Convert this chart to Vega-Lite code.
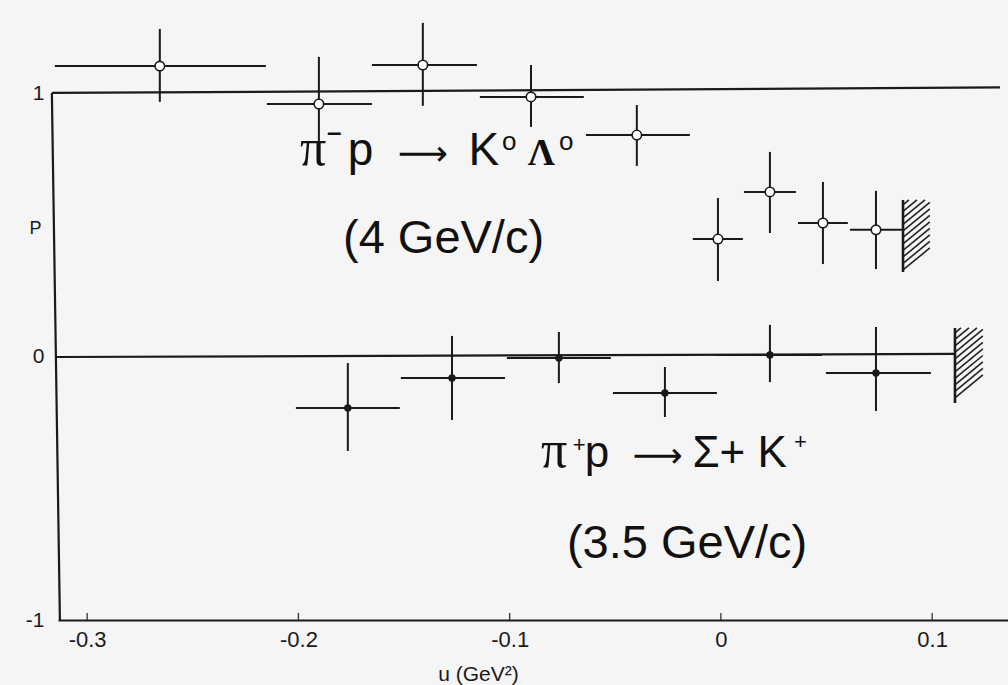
{
  "$schema": "https://vega.github.io/schema/vega-lite/v6.json",
  "width": 950,
  "height": 620,
  "autosize": {"type": "none"},
  "padding": {"left": 58, "top": 0, "right": 0, "bottom": 65},
  "background": "#f5f5f6",
  "config": {"view": {"stroke": null}, "font": "Liberation Sans"},
  "datasets": {
    "points": [
      {"reaction": "K0L0", "u": -0.2656, "ulo": -0.3153, "uhi": -0.2154, "P": 1.104, "Plo": 0.968, "Phi": 1.245},
      {"reaction": "K0L0", "u": -0.1903, "ulo": -0.2149, "uhi": -0.1652, "P": 0.960, "Plo": 0.800, "Phi": 1.139},
      {"reaction": "K0L0", "u": -0.1411, "ulo": -0.1652, "uhi": -0.1155, "P": 1.108, "Plo": 0.953, "Phi": 1.268},
      {"reaction": "K0L0", "u": -0.0899, "ulo": -0.1141, "uhi": -0.0649, "P": 0.987, "Plo": 0.873, "Phi": 1.108},
      {"reaction": "K0L0", "u": -0.0398, "ulo": -0.0639, "uhi": -0.0147, "P": 0.842, "Plo": 0.725, "Phi": 0.956},
      {"reaction": "K0L0", "u": -0.0014, "ulo": -0.0133, "uhi": 0.0104, "P": 0.447, "Plo": 0.288, "Phi": 0.603},
      {"reaction": "K0L0", "u": 0.0232, "ulo": 0.0109, "uhi": 0.0355, "P": 0.626, "Plo": 0.470, "Phi": 0.778},
      {"reaction": "K0L0", "u": 0.0483, "ulo": 0.0365, "uhi": 0.0601, "P": 0.508, "Plo": 0.352, "Phi": 0.664},
      {"reaction": "K0L0", "u": 0.0734, "ulo": 0.0611, "uhi": 0.0857, "P": 0.482, "Plo": 0.333, "Phi": 0.630},
      {"reaction": "SK", "u": -0.1766, "ulo": -0.2012, "uhi": -0.1520, "P": -0.195, "Plo": -0.358, "Phi": -0.024},
      {"reaction": "SK", "u": -0.1273, "ulo": -0.1515, "uhi": -0.1022, "P": -0.081, "Plo": -0.240, "Phi": 0.079},
      {"reaction": "SK", "u": -0.0767, "ulo": -0.1013, "uhi": -0.0521, "P": -0.005, "Plo": -0.100, "Phi": 0.094},
      {"reaction": "SK", "u": -0.0265, "ulo": -0.0511, "uhi": -0.0019, "P": -0.138, "Plo": -0.229, "Phi": -0.039},
      {"reaction": "SK", "u": 0.0232, "ulo": -0.0024, "uhi": 0.0478, "P": 0.007, "Plo": -0.096, "Phi": 0.121},
      {"reaction": "SK", "u": 0.0734, "ulo": 0.0497, "uhi": 0.0994, "P": -0.062, "Plo": -0.206, "Phi": 0.113}
    ],
    "segments": [
      {"kind": "frame", "u1": -0.3167, "P1": 1.0019, "u2": 0.1321, "P2": 1.0228},
      {"kind": "frame", "u1": -0.3143, "P1": -0.001, "u2": 0.1108, "P2": 0.0105},
      {"kind": "frame", "u1": -0.3167, "P1": 1.0019, "u2": -0.3129, "P2": -1.0},
      {"kind": "tick", "u1": -0.3, "P1": -1.0, "u2": -0.3, "P2": -0.973},
      {"kind": "tick", "u1": -0.2, "P1": -1.0, "u2": -0.2, "P2": -0.973},
      {"kind": "tick", "u1": -0.1, "P1": -1.0, "u2": -0.1, "P2": -0.973},
      {"kind": "tick", "u1": 0.0, "P1": -1.0, "u2": 0.0, "P2": -0.973},
      {"kind": "tick", "u1": 0.1, "P1": -1.0, "u2": 0.1, "P2": -0.973},
      {"kind": "edge", "u1": 0.0862, "P1": 0.5955, "u2": 0.0862, "P2": 0.3219},
      {"kind": "edge", "u1": 0.1108, "P1": 0.1092, "u2": 0.1108, "P2": -0.1757},
      {"kind": "hatch", "u1": 0.0862, "P1": 0.5765, "u2": 0.0890, "P2": 0.5955},
      {"kind": "hatch", "u1": 0.0862, "P1": 0.5518, "u2": 0.0928, "P2": 0.5955},
      {"kind": "hatch", "u1": 0.0862, "P1": 0.5271, "u2": 0.0966, "P2": 0.5955},
      {"kind": "hatch", "u1": 0.0862, "P1": 0.5024, "u2": 0.0989, "P2": 0.5860},
      {"kind": "hatch", "u1": 0.0862, "P1": 0.4777, "u2": 0.0989, "P2": 0.5613},
      {"kind": "hatch", "u1": 0.0862, "P1": 0.4530, "u2": 0.0989, "P2": 0.5366},
      {"kind": "hatch", "u1": 0.0862, "P1": 0.4283, "u2": 0.0989, "P2": 0.5119},
      {"kind": "hatch", "u1": 0.0862, "P1": 0.4036, "u2": 0.0989, "P2": 0.4872},
      {"kind": "hatch", "u1": 0.0862, "P1": 0.3789, "u2": 0.0989, "P2": 0.4625},
      {"kind": "hatch", "u1": 0.0862, "P1": 0.3542, "u2": 0.0989, "P2": 0.4378},
      {"kind": "hatch", "u1": 0.0862, "P1": 0.3295, "u2": 0.0989, "P2": 0.4131},
      {"kind": "hatch", "u1": 0.1108, "P1": 0.0902, "u2": 0.1136, "P2": 0.1092},
      {"kind": "hatch", "u1": 0.1108, "P1": 0.0655, "u2": 0.1174, "P2": 0.1092},
      {"kind": "hatch", "u1": 0.1108, "P1": 0.0408, "u2": 0.1212, "P2": 0.1092},
      {"kind": "hatch", "u1": 0.1108, "P1": 0.0161, "u2": 0.1240, "P2": 0.1035},
      {"kind": "hatch", "u1": 0.1108, "P1": -0.0085, "u2": 0.1240, "P2": 0.0788},
      {"kind": "hatch", "u1": 0.1108, "P1": -0.0332, "u2": 0.1240, "P2": 0.0541},
      {"kind": "hatch", "u1": 0.1108, "P1": -0.0579, "u2": 0.1240, "P2": 0.0294},
      {"kind": "hatch", "u1": 0.1108, "P1": -0.0826, "u2": 0.1240, "P2": 0.0047},
      {"kind": "hatch", "u1": 0.1108, "P1": -0.1073, "u2": 0.1240, "P2": -0.0199},
      {"kind": "hatch", "u1": 0.1108, "P1": -0.1320, "u2": 0.1240, "P2": -0.0446},
      {"kind": "hatch", "u1": 0.1108, "P1": -0.1567, "u2": 0.1240, "P2": -0.0693}
    ],
    "labels": [
      {"style": "pi", "u": -0.1993, "P": 0.7284, "text": "π"},
      {"style": "minus", "u": -0.1865, "P": 0.8196, "text": "–"},
      {"style": "rxA", "u": -0.1766, "P": 0.7284, "text": "p"},
      {"style": "arrow", "u": -0.1530, "P": 0.7284, "text": "⟶"},
      {"style": "rxA", "u": -0.1195, "P": 0.7284, "text": "K"},
      {"style": "sup", "u": -0.1036, "P": 0.7856, "text": "o"},
      {"style": "lam", "u": -0.0914, "P": 0.7284, "text": "Λ"},
      {"style": "sup", "u": -0.0766, "P": 0.7856, "text": "o"},
      {"style": "energy", "u": -0.1789, "P": 0.3941, "text": "(4 GeV/c)"},
      {"style": "pi", "u": -0.0852, "P": -0.4188, "text": "π"},
      {"style": "plus", "u": -0.0701, "P": -0.3637, "text": "+"},
      {"style": "rxC", "u": -0.0644, "P": -0.4188, "text": "p"},
      {"style": "arrow", "u": -0.0418, "P": -0.4188, "text": "⟶"},
      {"style": "rxC", "u": -0.0135, "P": -0.4188, "text": "Σ+ K"},
      {"style": "plus", "u": 0.0346, "P": -0.3514, "text": "+"},
      {"style": "energy", "u": -0.0729, "P": -0.7643, "text": "(3.5 GeV/c)"}
    ]
  },
  "encoding": {
    "x": {"field": "u", "type": "quantitative", "title": "u  (GeV²)", "scale": {"domain": [-0.3138, 0.1359], "nice": false, "zero": false}},
    "y": {"field": "P", "type": "quantitative", "title": "P", "scale": {"domain": [-1, 1.355], "nice": false, "zero": false}}
  },
  "layer": [
    {
      "data": {"name": "points"},
      "mark": {"type": "rule", "color": "#1a1a1a", "strokeWidth": 2},
      "encoding": {
        "x": {
          "field": "ulo", "type": "quantitative", "title": "u  (GeV²)",
          "scale": {"domain": [-0.3138, 0.1359], "nice": false, "zero": false},
          "axis": {
            "values": [-0.3, -0.2, -0.1, 0, 0.1],
            "labelExpr": "datum.value == 0 ? '0' : (datum.value < 0 ? '-' : '') + format(abs(datum.value), '.1f')",
            "grid": false, "ticks": false,
            "domainColor": "#1a1a1a", "domainWidth": 2,
            "labelPadding": 9, "labelFontSize": 22, "labelColor": "#1a1a1a",
            "titleFontSize": 21, "titleFontWeight": "normal", "titleColor": "#1a1a1a",
            "titleX": 420, "titleY": 60, "titleBaseline": "alphabetic", "titleAlign": "center"
          }
        },
        "x2": {"field": "uhi"},
        "y": {
          "field": "P", "type": "quantitative", "title": "P",
          "scale": {"domain": [-1, 1.355], "nice": false, "zero": false},
          "axis": {
            "values": [-1, 0, 1],
            "labelExpr": "datum.value < 0 ? '-' + format(abs(datum.value), 'd') : format(datum.value, 'd')",
            "grid": false, "domain": false, "ticks": false,
            "labelPadding": 14, "labelFontSize": 21, "labelColor": "#1a1a1a",
            "titleAngle": 0, "titleX": -23, "titleY": 228, "titleAlign": "center", "titleBaseline": "middle",
            "titleFontSize": 18, "titleFontWeight": "normal", "titleColor": "#1a1a1a"
          }
        }
      }
    },
    {
      "data": {"name": "points"},
      "mark": {"type": "rule", "color": "#1a1a1a", "strokeWidth": 2},
      "encoding": {
        "y": {"field": "Plo", "type": "quantitative", "title": "P", "scale": {"domain": [-1, 1.355], "nice": false, "zero": false}},
        "y2": {"field": "Phi"}
      }
    },
    {
      "data": {"name": "points"},
      "transform": [{"filter": "datum.reaction == 'K0L0'"}],
      "mark": {"type": "point", "shape": "circle", "filled": false, "fill": "#ffffff", "fillOpacity": 1, "stroke": "#1a1a1a", "strokeWidth": 1.6, "size": 90, "opacity": 1}
    },
    {
      "data": {"name": "points"},
      "transform": [{"filter": "datum.reaction == 'SK'"}],
      "mark": {"type": "point", "shape": "circle", "filled": true, "color": "#1a1a1a", "size": 55, "opacity": 1}
    },
    {
      "data": {"name": "segments"},
      "transform": [{"filter": "datum.kind == 'frame'"}],
      "mark": {"type": "rule", "color": "#1a1a1a", "strokeWidth": 2.2},
      "encoding": {
        "x": {"field": "u1", "type": "quantitative", "title": "u  (GeV²)", "scale": {"domain": [-0.3138, 0.1359], "nice": false, "zero": false}},
        "x2": {"field": "u2"},
        "y": {"field": "P1", "type": "quantitative", "title": "P", "scale": {"domain": [-1, 1.355], "nice": false, "zero": false}},
        "y2": {"field": "P2"}
      }
    },
    {
      "data": {"name": "segments"},
      "transform": [{"filter": "datum.kind == 'tick'"}],
      "mark": {"type": "rule", "color": "#333333", "strokeWidth": 1.3},
      "encoding": {
        "x": {"field": "u1", "type": "quantitative", "title": "u  (GeV²)", "scale": {"domain": [-0.3138, 0.1359], "nice": false, "zero": false}},
        "y": {"field": "P1", "type": "quantitative", "title": "P", "scale": {"domain": [-1, 1.355], "nice": false, "zero": false}},
        "y2": {"field": "P2"}
      }
    },
    {
      "data": {"name": "segments"},
      "transform": [{"filter": "datum.kind == 'hatch'"}],
      "mark": {"type": "rule", "color": "#222222", "strokeWidth": 1.6},
      "encoding": {
        "x": {"field": "u1", "type": "quantitative", "title": "u  (GeV²)", "scale": {"domain": [-0.3138, 0.1359], "nice": false, "zero": false}},
        "x2": {"field": "u2"},
        "y": {"field": "P1", "type": "quantitative", "title": "P", "scale": {"domain": [-1, 1.355], "nice": false, "zero": false}},
        "y2": {"field": "P2"}
      }
    },
    {
      "data": {"name": "segments"},
      "transform": [{"filter": "datum.kind == 'edge'"}],
      "mark": {"type": "rule", "color": "#1a1a1a", "strokeWidth": 2.6},
      "encoding": {
        "x": {"field": "u1", "type": "quantitative", "title": "u  (GeV²)", "scale": {"domain": [-0.3138, 0.1359], "nice": false, "zero": false}},
        "x2": {"field": "u2"},
        "y": {"field": "P1", "type": "quantitative", "title": "P", "scale": {"domain": [-1, 1.355], "nice": false, "zero": false}},
        "y2": {"field": "P2"}
      }
    },
    {
      "data": {"name": "labels"},
      "transform": [{"filter": "datum.style == 'rxA'"}],
      "mark": {"type": "text", "align": "left", "baseline": "alphabetic", "font": "Liberation Sans", "fontSize": 46, "color": "#111111"},
      "encoding": {"text": {"field": "text"}}
    },
    {
      "data": {"name": "labels"},
      "transform": [{"filter": "datum.style == 'rxC'"}],
      "mark": {"type": "text", "align": "left", "baseline": "alphabetic", "font": "Liberation Sans", "fontSize": 44, "color": "#111111"},
      "encoding": {"text": {"field": "text"}}
    },
    {
      "data": {"name": "labels"},
      "transform": [{"filter": "datum.style == 'arrow'"}],
      "mark": {"type": "text", "align": "left", "baseline": "alphabetic", "font": "DejaVu Sans", "fontSize": 35, "color": "#111111"},
      "encoding": {"text": {"field": "text"}}
    },
    {
      "data": {"name": "labels"},
      "transform": [{"filter": "datum.style == 'sup'"}],
      "mark": {"type": "text", "align": "left", "baseline": "alphabetic", "font": "Liberation Sans", "fontSize": 26, "color": "#111111"},
      "encoding": {"text": {"field": "text"}}
    },
    {
      "data": {"name": "labels"},
      "transform": [{"filter": "datum.style == 'plus'"}],
      "mark": {"type": "text", "align": "left", "baseline": "alphabetic", "font": "Liberation Sans", "fontSize": 22, "color": "#111111"},
      "encoding": {"text": {"field": "text"}}
    },
    {
      "data": {"name": "labels"},
      "transform": [{"filter": "datum.style == 'minus'"}],
      "mark": {"type": "text", "align": "left", "baseline": "alphabetic", "font": "Liberation Sans", "fontSize": 26, "fontWeight": "bold", "color": "#111111"},
      "encoding": {"text": {"field": "text"}}
    },
    {
      "data": {"name": "labels"},
      "transform": [{"filter": "datum.style == 'energy'"}],
      "mark": {"type": "text", "align": "left", "baseline": "alphabetic", "font": "Liberation Sans", "fontSize": 47, "color": "#111111"},
      "encoding": {"text": {"field": "text"}}
    },
    {
      "data": {"name": "labels"},
      "transform": [{"filter": "datum.style == 'pi'"}],
      "mark": {"type": "text", "align": "left", "baseline": "alphabetic", "font": "Liberation Serif", "fontSize": 52, "color": "#111111"},
      "encoding": {"text": {"field": "text"}}
    },
    {
      "data": {"name": "labels"},
      "transform": [{"filter": "datum.style == 'lam'"}],
      "mark": {"type": "text", "align": "left", "baseline": "alphabetic", "font": "Liberation Serif", "fontSize": 38, "fontWeight": "bold", "color": "#111111"},
      "encoding": {"text": {"field": "text"}}
    }
  ]
}
